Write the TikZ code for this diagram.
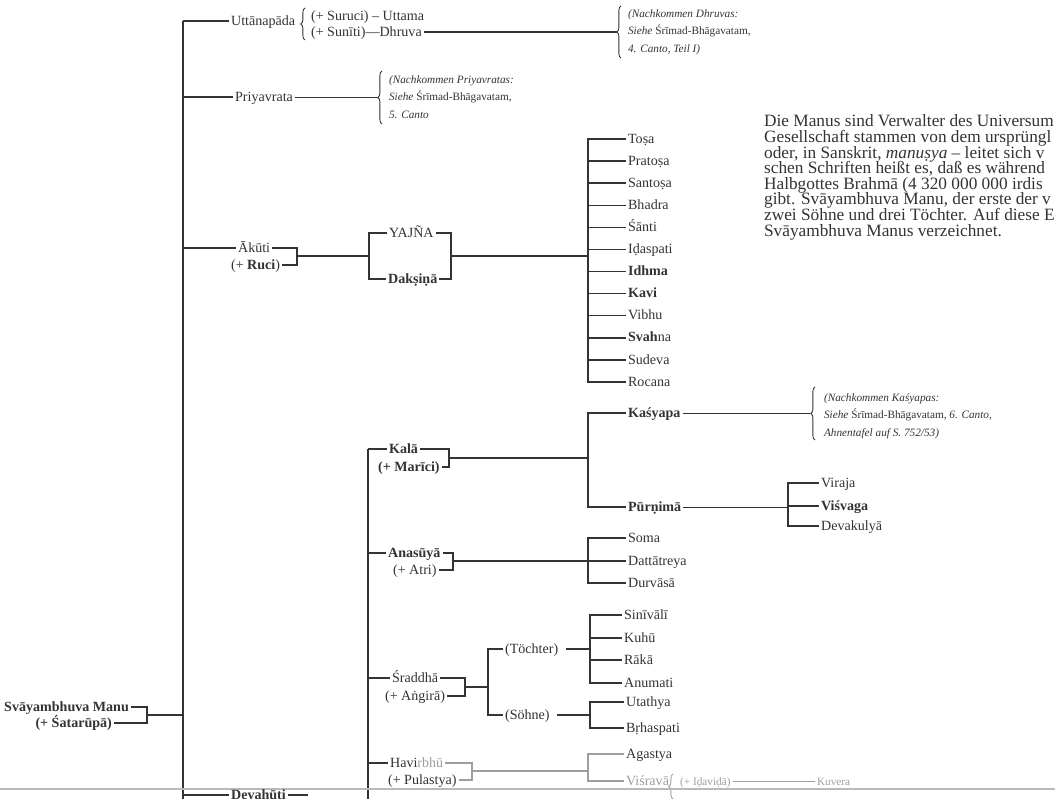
\documentclass[tikz,border=0pt]{standalone}
\usepackage{fontspec}
\setmainfont{Liberation Serif}
\usetikzlibrary{decorations.pathreplacing}
\definecolor{ink}{gray}{0.2}
\definecolor{faded}{gray}{0.62}

\begin{document}
\begin{tikzpicture}[x=0.025cm, y=-0.025cm, line width=1pt, color=ink,
    every node/.style={inner sep=1pt, font=\fontsize{10}{12}\selectfont},
    lbl/.style={anchor=west, text height=1.6ex, text depth=.35ex},
    lbr/.style={anchor=east, text height=1.6ex, text depth=.35ex},
    heavy/.style={font=\fontsize{10}{12}\selectfont\bfseries},
    note/.style={anchor=west, align=left, font=\fontsize{8}{12.4}\selectfont\itshape},
    hint/.style={line width=.6pt},
    brc/.style={decorate, decoration={brace, amplitude=3pt}, line width=.6pt},
    para/.style={anchor=base west, font=\fontsize{12.3}{11}\selectfont}]
    \useasboundingbox (0,0) rectangle (1055,799);
    \clip (0,0) rectangle (1055,799);

    \coordinate (t0) at (183,21);
    \coordinate (t1) at (183,799);
    \draw[line width=1.2pt] (t0) -- (t1);

    \node[lbr, heavy] (manu) at (131,707) {Svāyambhuva Manu};
    \node[lbr, heavy] (satarupa) at (114,723) {(+ Śatarūpā)};
    \coordinate (mb) at (147,715);
    \draw (manu.east) -| (mb) |- (satarupa.east);
    \draw (mb) -- (mb -| t0);

    \node[lbl] (uttana) at (229,21) {Uttānapāda};
    \draw (t0) -- (uttana.west);
    \node[lbl] (uttama) at (309,16) {(+ Suruci) – Uttama};
    \node[lbl] (dhruva) at (309,32) {(+ Sunīti)—Dhruva};
    \draw[brc] (305,40) -- (305,8);
    \coordinate (bd) at (617,32);
    \draw (dhruva.east) -- (bd);
    \draw[brc] (621,58) -- (621,6);
    \node[note] (ndhruva) at (626,32) {(Nachkommen Dhruvas:\\Siehe {\upshape Śrīmad-Bhāgavatam,}\\4. Canto, Teil I)};

    \node[lbl] (priya) at (233,97) {Priyavrata};
    \draw (t0 |- priya) -- (priya.west);
    \coordinate (bp) at (378,97);
    \draw[hint] (priya.east) -- (bp);
    \draw[brc] (382,124) -- (382,71);
    \node[note] (npriya) at (387,97) {(Nachkommen Priyavratas:\\Siehe {\upshape Śrīmad-Bhāgavatam,}\\5. Canto};

    \node[lbl] (akuti) at (236,248) {Ākūti};
    \node[lbl] (ruci) at (229,265) {(+ \textbf{Ruci})};
    \draw (t0 |- akuti) -- (akuti.west);
    \coordinate (ab) at (297,256);
    \draw (akuti.east) -| (ab) |- (ruci.east);
    \node[lbl] (yajna) at (387,233) {YAJÑA};
    \node[lbl, heavy] (daksina) at (386,279) {Dakṣiṇā};
    \coordinate (yj) at (369,256);
    \draw (ab) -- (yj);
    \draw (yj) |- (yajna.west);
    \draw (yj) |- (daksina.west);
    \coordinate (yb) at (451,256);
    \draw (yajna.east) -| (yb) |- (daksina.east);
    \coordinate (kids) at (588,256);
    \draw (yb) -- (kids);
    \foreach \s [count=\i from 0] in {Toṣa, Pratoṣa, Santoṣa, Bhadra, Śānti, Iḍaspati, \textbf{Idhma}, \textbf{Kavi}, Vibhu, \textbf{Svah}na, Sudeva, Rocana} {
        \node[lbl] (k\i) at (626,139+22.1*\i) {\s};
        \draw (kids) |- (k\i.west);
    }

    \coordinate (s0) at (368,449);
    \coordinate (s1) at (368,799);
    \draw[line width=1.2pt] (s0) -- (s1);

    \node[lbl, heavy] (kala) at (387,449) {Kalā};
    \node[lbl, heavy] (marici) at (376,467) {(+ Marīci)};
    \draw (s0) -- (kala.west);
    \coordinate (kb) at (449,458);
    \draw (kala.east) -| (kb) |- (marici.east);
    \coordinate (kk) at (588,458);
    \draw (kb) -- (kk);
    \node[lbl, heavy] (kasyapa) at (626,413) {Kaśyapa};
    \node[lbl, heavy] (purnima) at (626,507) {Pūrṇimā};
    \draw (kk) |- (kasyapa.west);
    \draw (kk) |- (purnima.west);
    \coordinate (bk) at (810,413);
    \draw[hint] (kasyapa.east) -- (bk);
    \draw[brc] (815,440) -- (815,387);
    \node[note] (nkasyapa) at (822,416) {(Nachkommen Kaśyapas:\\Siehe {\upshape Śrīmad-Bhāgavatam,} 6. Canto,\\Ahnentafel auf S. 752/53)};
    \coordinate (pk) at (788,507);
    \draw[hint] (purnima.east) -- (pk);
    \foreach \s/\y [count=\i] in {Viraja/483, \textbf{Viśvaga}/506, Devakulyā/526} {
        \node[lbl] (p\i) at (819,\y) {\s};
        \draw (pk) |- (p\i.west);
    }

    \node[lbl, heavy] (anasuya) at (386,553) {Anasūyā};
    \node[lbl] (atri) at (391,570) {(+ Atri)};
    \draw (s0 |- anasuya) -- (anasuya.west);
    \coordinate (anb) at (453,561);
    \draw (anasuya.east) -| (anb) |- (atri.east);
    \coordinate (ak) at (588,561);
    \draw (anb) -- (ak);
    \foreach \s/\y [count=\i] in {Soma/538, Dattātreya/561, Durvāsā/583} {
        \node[lbl] (a\i) at (626,\y) {\s};
        \draw (ak) |- (a\i.west);
    }

    \node[lbl] (sraddha) at (390,678) {Śraddhā};
    \node[lbl] (angira) at (383,696) {(+ Aṅgirā)};
    \draw (s0 |- sraddha) -- (sraddha.west);
    \coordinate (sb) at (465,687);
    \draw (sraddha.east) -| (sb) |- (angira.east);
    \coordinate (sk) at (488,687);
    \draw (sb) -- (sk);
    \node[lbl] (toechter) at (503,649) {(Töchter)};
    \node[lbl] (soehne) at (503,715) {(Söhne)};
    \draw (sk) |- (toechter.west);
    \draw (sk) |- (soehne.west);
    \coordinate (tk) at (590,649);
    \draw (toechter.east) ++(4pt,0) -- (tk);
    \foreach \s/\y [count=\i] in {Sinīvālī/615, Kuhū/638, Rākā/660, Anumati/683} {
        \node[lbl] (d\i) at (622,\y) {\s};
        \draw (tk) |- (d\i.west);
    }
    \coordinate (hk) at (590,715);
    \draw (soehne.east) ++(4pt,0) -- (hk);
    \foreach \s/\y [count=\i] in {Utathya/702, Bṛhaspati/728} {
        \node[lbl] (u\i) at (624,\y) {\s};
        \draw (hk) |- (u\i.west);
    }

    \node[lbl] (havir) at (388,763) {Havi\textcolor{faded}{rbhū}};
    \node[lbl] (pulastya) at (386,780) {(+ Pulastya)};
    \draw (s0 |- havir) -- (havir.west);
    \coordinate (hb) at (472,771);
    \draw[faded] (havir.east) -| (hb) |- (pulastya.east);
    \coordinate (hv) at (588,771);
    \draw[faded] (hb) -- (hv);
    \node[lbl] (agastya) at (624,754) {Agastya};
    \node[lbl, text=faded] (visrava) at (624,781) {Viśravā};
    \draw[faded] (hv) |- (agastya.west);
    \draw[faded] (hv) |- (visrava.west);
    \draw[brc, faded] (673,799) -- (673,774);
    \node[lbl, text=faded, font=\fontsize{8}{10}\selectfont] (idavida) at (678,781) {(+ Iḍaviḍā)};
    \node[lbl, text=faded, font=\fontsize{8}{10}\selectfont] (kuvera) at (815,781) {Kuvera};
    \draw[faded, hint] (idavida.east) -- (kuvera.west);

    \draw[gray!55, line width=1.2pt] (0,789) -- (1055,789);
    \node[lbl, heavy] (devahuti) at (229,795) {Devahūti};
    \draw (t1 |- devahuti) -- (devahuti.west);
    \coordinate (dv) at (308,795);
    \draw (devahuti.east) -- (dv);

    \node[para] (l1) at (762,127) {Die Manus sind Verwalter des Universum};
    \node[para] (l2) at (762,142.6) {Gesellschaft stammen von dem ursprüngl};
    \node[para] (l3) at (762,158.2) {oder, in Sanskrit, \textit{manuṣya} – leitet sich v};
    \node[para] (l4) at (762,173.8) {schen Schriften heißt es, daß es während};
    \node[para] (l5) at (762,189.4) {Halbgottes Brahmā (4 320 000 000 irdis};
    \node[para] (l6) at (762,205) {gibt. Svāyambhuva Manu, der erste der v};
    \node[para] (l7) at (762,220.6) {zwei Söhne und drei Töchter. Auf diese E};
    \node[para] (l8) at (762,236.2) {Svāyambhuva Manus verzeichnet.};
\end{tikzpicture}
\end{document}
